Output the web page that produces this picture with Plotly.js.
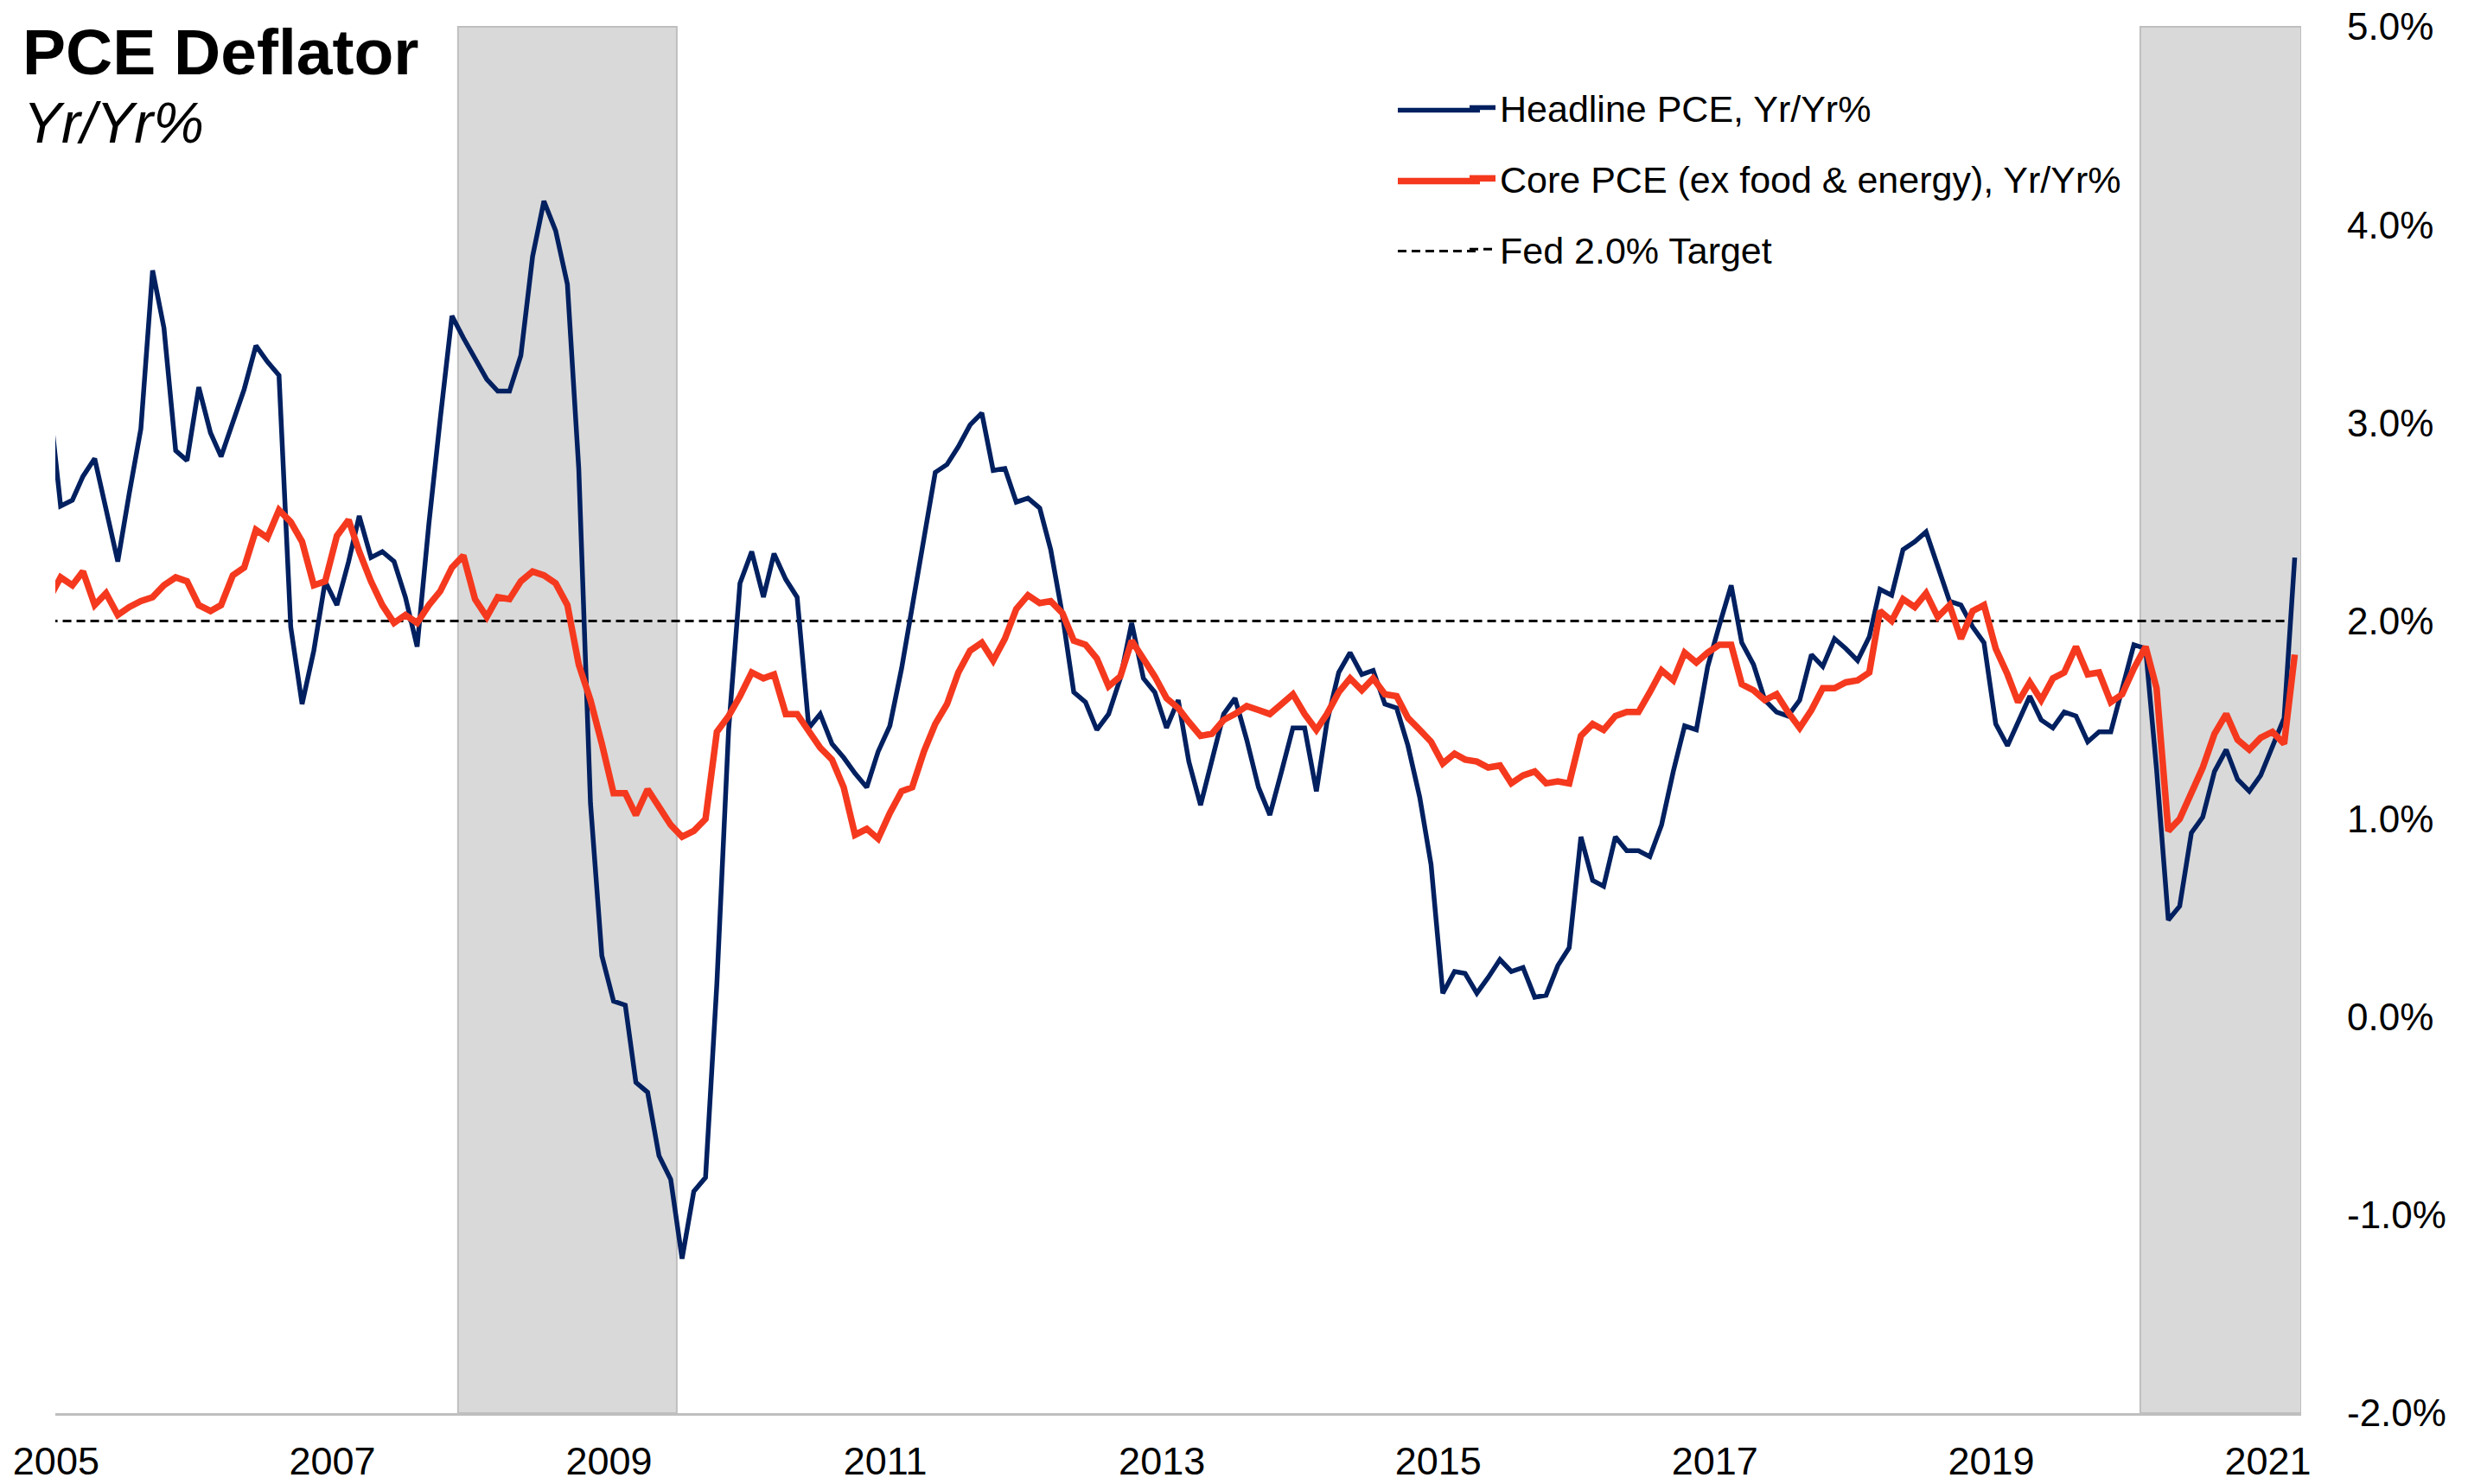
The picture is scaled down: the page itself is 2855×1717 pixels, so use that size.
<!DOCTYPE html>
<html>
<head>
<meta charset="utf-8">
<script src="https://cdn.plot.ly/plotly-3.0.1.min.js"></script>
<style>html,body{margin:0;padding:0;background:#fff;}</style>
</head>
<body>
<div id="chart" style="width:2855px;height:1717px;"></div>
<script>
// ---- data (monthly, first value = Dec 2004, last = Mar 2021) ----
const firstYear = 2004;
const firstMonth = 12;
const headlinePCE = [
  3.13,
  2.58,2.61,2.73,2.82,2.56,2.30,2.64,2.97,3.77,3.48,2.86,2.81,
  3.18,2.95,2.83,3.00,3.17,3.39,3.31,3.24,1.97,1.58,1.85,2.20,
  2.08,2.30,2.53,2.32,2.35,2.30,2.12,1.87,2.49,3.02,3.54,3.43,
  3.33,3.22,3.16,3.16,3.34,3.84,4.12,3.97,3.70,2.77,1.08,0.31,
  0.08,0.06,-0.33,-0.38,-0.70,-0.82,-1.22,-0.88,-0.81,0.17,1.45,2.19,
  2.35,2.12,2.34,2.21,2.12,1.46,1.53,1.38,1.31,1.23,1.16,1.34,
  1.47,1.76,2.07,2.41,2.75,2.79,2.88,2.99,3.05,2.76,2.77,2.60,
  2.62,2.57,2.36,2.03,1.64,1.59,1.45,1.53,1.71,1.99,1.71,1.64,
  1.46,1.60,1.29,1.07,1.30,1.53,1.61,1.40,1.16,1.02,1.24,1.46,
  1.46,1.14,1.49,1.74,1.84,1.73,1.75,1.58,1.56,1.37,1.11,0.77,
  0.12,0.23,0.22,0.12,0.20,0.29,0.23,0.25,0.10,0.11,0.26,0.35,
  0.91,0.69,0.66,0.91,0.84,0.84,0.81,0.97,1.24,1.47,1.45,1.77,
  1.98,2.18,1.89,1.78,1.60,1.54,1.52,1.60,1.83,1.77,1.91,1.86,
  1.80,1.92,2.16,2.13,2.36,2.40,2.45,2.28,2.10,2.08,1.97,1.89,
  1.48,1.37,1.49,1.62,1.50,1.46,1.54,1.52,1.39,1.44,1.44,1.66,
  1.88,1.86,1.25,0.49,0.56,0.93,1.01,1.24,1.35,1.20,1.14,1.22,
  1.37,1.51,2.32
];
const corePCE = [
  2.11,
  2.22,2.18,2.25,2.08,2.14,2.03,2.07,2.10,2.12,2.18,2.22,2.20,
  2.08,2.05,2.08,2.23,2.27,2.46,2.42,2.56,2.50,2.40,2.18,2.20,
  2.43,2.51,2.35,2.20,2.08,1.99,2.03,1.99,2.08,2.15,2.27,2.33,
  2.11,2.02,2.12,2.11,2.20,2.25,2.23,2.19,2.08,1.78,1.60,1.38,
  1.13,1.13,1.02,1.15,1.06,0.97,0.91,0.94,1.00,1.44,1.52,1.62,
  1.74,1.71,1.73,1.53,1.53,1.44,1.36,1.30,1.16,0.92,0.95,0.90,
  1.03,1.14,1.16,1.34,1.48,1.58,1.74,1.85,1.89,1.80,1.91,2.06,
  2.13,2.09,2.10,2.04,1.90,1.88,1.81,1.67,1.72,1.90,1.81,1.72,
  1.61,1.56,1.49,1.42,1.43,1.50,1.53,1.57,1.55,1.53,1.58,1.63,
  1.53,1.45,1.53,1.64,1.71,1.65,1.71,1.63,1.62,1.51,1.45,1.39,
  1.28,1.33,1.30,1.29,1.26,1.27,1.18,1.22,1.24,1.18,1.19,1.18,
  1.42,1.48,1.45,1.52,1.54,1.54,1.64,1.75,1.70,1.84,1.79,1.84,
  1.88,1.88,1.68,1.65,1.60,1.63,1.54,1.46,1.55,1.66,1.66,1.69,
  1.70,1.74,2.05,2.00,2.11,2.07,2.14,2.02,2.08,1.91,2.05,2.08,
  1.86,1.73,1.59,1.69,1.60,1.71,1.74,1.87,1.73,1.74,1.59,1.63,
  1.76,1.87,1.66,0.94,1.00,1.14,1.26,1.43,1.53,1.40,1.35,1.41,
  1.44,1.38,1.83
];
const fedTarget = [2.0, 2.0];
const fedTargetDates = ['2004-12-15', '2021-03-01'];
const recessionStart = ['2007-12-01', '2020-02-01'];
const recessionEnd = ['2009-07-01', '2021-04-01'];
const xTickYears = ['2005','2007','2009','2011','2013','2015','2017','2019','2021'];
const yTickVals = [-2, -1, 0, 1, 2, 3, 4, 5];
const yTickText = ['-2.0%','-1.0%','0.0%','1.0%','2.0%','3.0%','4.0%','5.0%'];
const seriesNames = ['Headline PCE, Yr/Yr%', 'Core PCE (ex food & energy), Yr/Yr%', 'Fed 2.0% Target'];

// monthly dates (mid-month) for the series
const dates = headlinePCE.map((_, i) => {
  const t = (firstMonth - 1) + i;
  const y = firstYear + Math.floor(t / 12);
  const m = (t % 12) + 1;
  return y + '-' + String(m).padStart(2, '0') + '-15';
});

const font = "'Liberation Sans', Arial, sans-serif";
const colors = {headline: '#002060', core: '#F5391E', target: '#000000'};

const traces = [
  {
    x: fedTargetDates, y: fedTarget, type: 'scatter', mode: 'lines',
    name: seriesNames[2], legendrank: 3, legendgroup: 'c',
    line: {color: colors.target, width: 3, dash: '10px,6px'}
  },
  {
    x: dates, y: headlinePCE, type: 'scatter', mode: 'lines',
    name: seriesNames[0], legendrank: 1, legendgroup: 'a',
    line: {color: colors.headline, width: 5.5}
  },
  {
    x: dates, y: corePCE, type: 'scatter', mode: 'lines',
    name: seriesNames[1], legendrank: 2, legendgroup: 'b',
    line: {color: colors.core, width: 7.5}
  }
];

// plot area in pixels (for placing the legend key lines)
const plotL = 64, plotT = 31, plotW = 2598, plotH = 1604;
const px2x = p => (p - plotL) / plotW;
const py2y = p => 1 - (p - plotT) / plotH;

const shapes = recessionStart.map((s, i) => ({
  type: 'rect', xref: 'x', yref: 'paper', layer: 'below',
  x0: s, x1: recessionEnd[i], y0: 0, y1: 1,
  fillcolor: '#d9d9d9', line: {color: '#bfbfbf', width: 2}
}));

// longer legend key lines (legend decoration)
const keyRows = [127.5, 209.5, 290.5];
const keyStyles = [
  {color: colors.headline, width: 5.5},
  {color: colors.core, width: 7.5},
  {color: colors.target, width: 3, dash: '10px,6px'}
];
keyRows.forEach((r, i) => shapes.push({
  type: 'line', xref: 'paper', yref: 'paper', layer: 'above',
  x0: px2x(1617), x1: px2x(1712), y0: py2y(r), y1: py2y(r),
  line: keyStyles[i]
}));

const layout = {
  width: 2855, height: 1717,
  paper_bgcolor: '#ffffff', plot_bgcolor: '#ffffff',
  margin: {l: plotL, r: 2855 - plotL - plotW, t: plotT, b: 1717 - plotT - plotH, pad: 0},
  showlegend: true,
  title: {
    text: '<b>PCE Deflator</b>',
    font: {family: font, size: 75, color: '#000000'},
    xref: 'container', yref: 'container',
    x: 26 / 2855, xanchor: 'left',
    y: 1 - 60 / 1717, yanchor: 'middle'
  },
  annotations: [{
    text: '<i>Yr/Yr%</i>', showarrow: false,
    xref: 'paper', yref: 'paper',
    x: px2x(25), xanchor: 'left',
    y: py2y(142), yanchor: 'middle',
    font: {family: font, size: 66, color: '#000000'}
  }],
  xaxis: {
    type: 'date',
    range: ['2005-01-01', '2021-04-01'],
    tickvals: xTickYears.map(y => y + '-01-03'),
    ticktext: xTickYears,
    ticks: '', showgrid: false, zeroline: false,
    showline: true, linecolor: '#bfbfbf', linewidth: 3,
    ticklabelstandoff: 14,
    tickfont: {family: font, size: 45, color: '#000000'}
  },
  yaxis: {
    side: 'right',
    range: [-2, 5],
    tickvals: yTickVals, ticktext: yTickText,
    ticks: '', showgrid: false, zeroline: false, showline: false,
    ticklabelstandoff: 52,
    tickfont: {family: font, size: 44, color: '#000000'}
  },
  legend: {
    x: px2x(1695), xanchor: 'left',
    y: py2y(90), yanchor: 'top',
    bgcolor: 'rgba(0,0,0,0)', borderwidth: 0,
    traceorder: 'grouped', tracegroupgap: 23,
    font: {family: font, size: 43, color: '#000000'}
  },
  shapes: shapes
};

Plotly.newPlot('chart', traces, layout, {displayModeBar: false, staticPlot: true});
</script>
</body>
</html>
